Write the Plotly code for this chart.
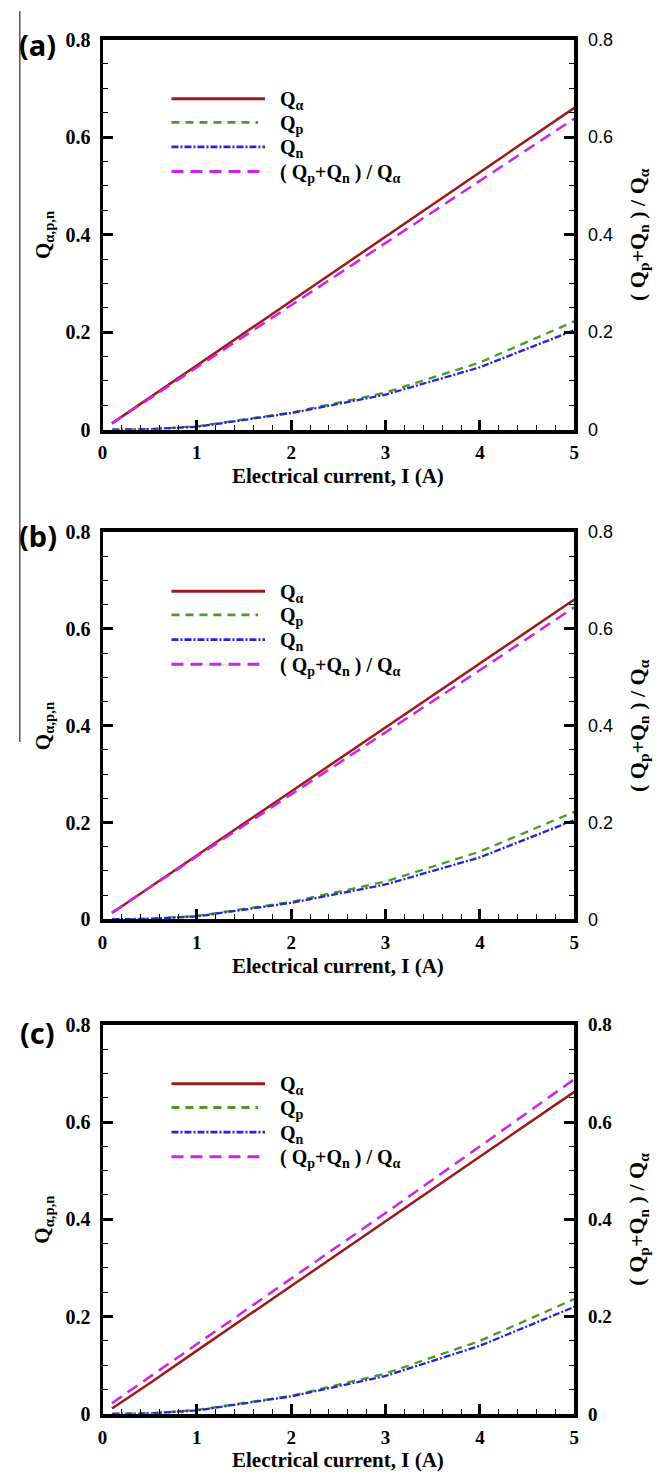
import plotly.graph_objects as go

# ---------------- data ----------------
current_I = [0.1, 0.5, 1, 2, 3, 4, 5]

q_alpha_a = [0.013, 0.066, 0.132, 0.264, 0.396, 0.528, 0.660]
q_p_a = [0.0, 0.001, 0.007, 0.035, 0.076, 0.138, 0.222]
q_n_a = [0.0, 0.001, 0.006, 0.034, 0.072, 0.128, 0.204]
ratio_a = [0.013, 0.064, 0.128, 0.256, 0.384, 0.511, 0.638]

q_alpha_b = [0.013, 0.066, 0.132, 0.264, 0.396, 0.528, 0.661]
q_p_b = [0.0, 0.001, 0.007, 0.036, 0.078, 0.140, 0.222]
q_n_b = [0.0, 0.001, 0.006, 0.034, 0.072, 0.128, 0.205]
ratio_b = [0.014, 0.066, 0.130, 0.258, 0.386, 0.515, 0.645]

q_alpha_c = [0.011, 0.063, 0.130, 0.263, 0.396, 0.529, 0.662]
q_p_c = [0.0, 0.001, 0.008, 0.037, 0.083, 0.150, 0.236]
q_n_c = [0.0, 0.001, 0.007, 0.036, 0.078, 0.140, 0.220]
ratio_c = [0.022, 0.076, 0.143, 0.278, 0.413, 0.550, 0.688]

panel_labels = ["(a)", "(b)", "(c)"]
y_ticks = [0, 0.2, 0.4, 0.6, 0.8]
x_ticks = [0, 1, 2, 3, 4, 5]
series_names = ["Q<sub>α</sub>", "Q<sub>p</sub>", "Q<sub>n</sub>",
                "( Q<sub>p</sub>+Q<sub>n</sub> ) / Q<sub>α</sub>"]

# ---------------- styles ----------------
W, H = 666, 1482
SERIF = "Liberation Serif"
SANS = "Liberation Sans"
colors = ["#9E1A1A", "#4A9A24", "#2424E0", "#D020EC"]
dashes = ["solid", "8px,6px", "7px,2px,2px,2px", "12px,7px"]
widths = [2.5, 2.3, 2.3, 2.5]

x_left, x_right = 99, 578
tops = [29, 529, 1029]
bottoms = [425, 922, 1424]
label_centers = [34, 532, 1037]
right_tick_fonts = [dict(family=SANS, size=18, color="black"),
                    dict(family=SANS, size=18, color="black"),
                    dict(family=SERIF, size=19, color="black", weight="bold")]

panels = [
    (q_alpha_a, q_p_a, q_n_a, ratio_a),
    (q_alpha_b, q_p_b, q_n_b, ratio_b),
    (q_alpha_c, q_p_c, q_n_c, ratio_c),
]


def py(pix):
    return 1 - pix / H


fig = go.Figure()
annotations = []
shapes = []

for k, (qa, qp, qn, rr) in enumerate(panels):
    xa = "x" if k == 0 else f"x{k + 1}"
    yl = "y" if k == 0 else f"y{2 * k + 1}"
    yr = f"y{2 * k + 2}"
    xa_key = "xaxis" if k == 0 else f"xaxis{k + 1}"
    yl_key = "yaxis" if k == 0 else f"yaxis{2 * k + 1}"
    yr_key = f"yaxis{2 * k + 2}"

    series = [(qa, yl), (qp, yl), (qn, yl), (rr, yr)]
    for j, (vals, yax) in enumerate(series):
        fig.add_trace(go.Scatter(
            x=current_I, y=vals, xaxis=xa, yaxis=yax, mode="lines",
            name=series_names[j], showlegend=False,
            line=dict(color=colors[j], width=widths[j], dash=dashes[j]),
        ))

    ydom = [py(bottoms[k]), py(tops[k])]
    common_y = dict(
        range=[0, 0.8], tickvals=y_ticks, ticks="inside", ticklen=10,
        tickwidth=2.5, tickcolor="black", showgrid=False, zeroline=False,
        showline=True, linecolor="black",
        minor=dict(ticks="inside", ticklen=5, tickwidth=1, dtick=0.05,
                   tickcolor="black", showgrid=False),
        fixedrange=True,
    )
    fig.layout[xa_key] = dict(
        domain=[x_left / W, x_right / W], anchor=yl, range=[0, 5],
        tickvals=x_ticks, ticks="inside", ticklen=10, tickwidth=2.5,
        tickcolor="black", showgrid=False, zeroline=False, showline=True,
        linewidth=4, linecolor="black", mirror=True,
        minor=dict(ticks="inside", ticklen=5, tickwidth=1, dtick=0.2,
                   tickcolor="black", showgrid=False),
        tickfont=dict(family=SERIF, size=19, color="black", weight="bold"),
        ticklabelstandoff=3, fixedrange=True,
    )
    fig.layout[yl_key] = dict(
        domain=ydom, anchor=xa, linewidth=3, side="left",
        tickfont=dict(family=SERIF, size=20, color="black", weight="bold"),
        ticklabelstandoff=5, **common_y,
    )
    fig.layout[yr_key] = dict(
        anchor=xa, overlaying=yl, side="right", linewidth=4,
        tickfont=right_tick_fonts[k], ticklabelstandoff=6, **common_y,
    )

    mid = (tops[k] + bottoms[k]) / 2
    # axis titles
    annotations.append(dict(
        text="<b>Electrical current, I (A)</b>", xref="paper", yref="paper",
        x=(x_left + x_right) / 2 / W, y=py(bottoms[k] + 47),
        xanchor="center", yanchor="middle", showarrow=False,
        font=dict(family=SERIF, size=21, color="black")))
    annotations.append(dict(
        text="<b>Q<sub>α,p,n</sub></b>", xref="paper", yref="paper",
        x=39 / W, y=py(mid), textangle=-90, xanchor="center",
        yanchor="middle", showarrow=False,
        font=dict(family=SERIF, size=21, color="black")))
    annotations.append(dict(
        text="<b>( Q<sub>p</sub>+Q<sub>n</sub> ) / Q<sub>α</sub></b>",
        xref="paper", yref="paper", x=643 / W, y=py(mid), textangle=-90,
        xanchor="center", yanchor="middle", showarrow=False,
        font=dict(family=SERIF, size=22, color="black")))
    # panel label
    annotations.append(dict(
        text="<b>" + panel_labels[k] + "</b>", xref="paper", yref="paper",
        x=33 / W, y=py(label_centers[k]), xanchor="center",
        yanchor="middle", showarrow=False,
        font=dict(family="Noto Sans", size=29, color="black")))

    # in-plot legend
    ph = bottoms[k] - tops[k]
    pw = x_right - x_left
    row_offsets = [60, 84, 109, 134]
    sample_ends = [264, 257, 264, 264]
    for j in range(4):
        yd = 1 - row_offsets[j] / ph
        shapes.append(dict(
            type="line", xref=f"{xa} domain", yref=f"{yl} domain",
            x0=(169 - x_left) / pw, x1=(sample_ends[j] - x_left) / pw,
            y0=yd, y1=yd,
            line=dict(color=colors[j], width=widths[j] + 0.5, dash=dashes[j])))
        annotations.append(dict(
            text="<b>" + series_names[j] + "</b>",
            xref=f"{xa} domain", yref=f"{yl} domain",
            x=(277 - x_left) / pw, y=yd, xanchor="left", yanchor="middle",
            yshift=-2, showarrow=False,
            font=dict(family=SERIF, size=20, color="black")))

# thin scan-edge line on the left of the first panels
shapes.append(dict(type="line", xref="paper", yref="paper",
                   x0=15 / W, x1=15 / W, y0=1, y1=py(742),
                   line=dict(color="#555555", width=1.5)))

fig.update_layout(
    width=W, height=H, margin=dict(l=0, r=0, t=0, b=0),
    paper_bgcolor="white", plot_bgcolor="white", showlegend=False,
    annotations=annotations, shapes=shapes,
)

fig.write_html("out.html")
